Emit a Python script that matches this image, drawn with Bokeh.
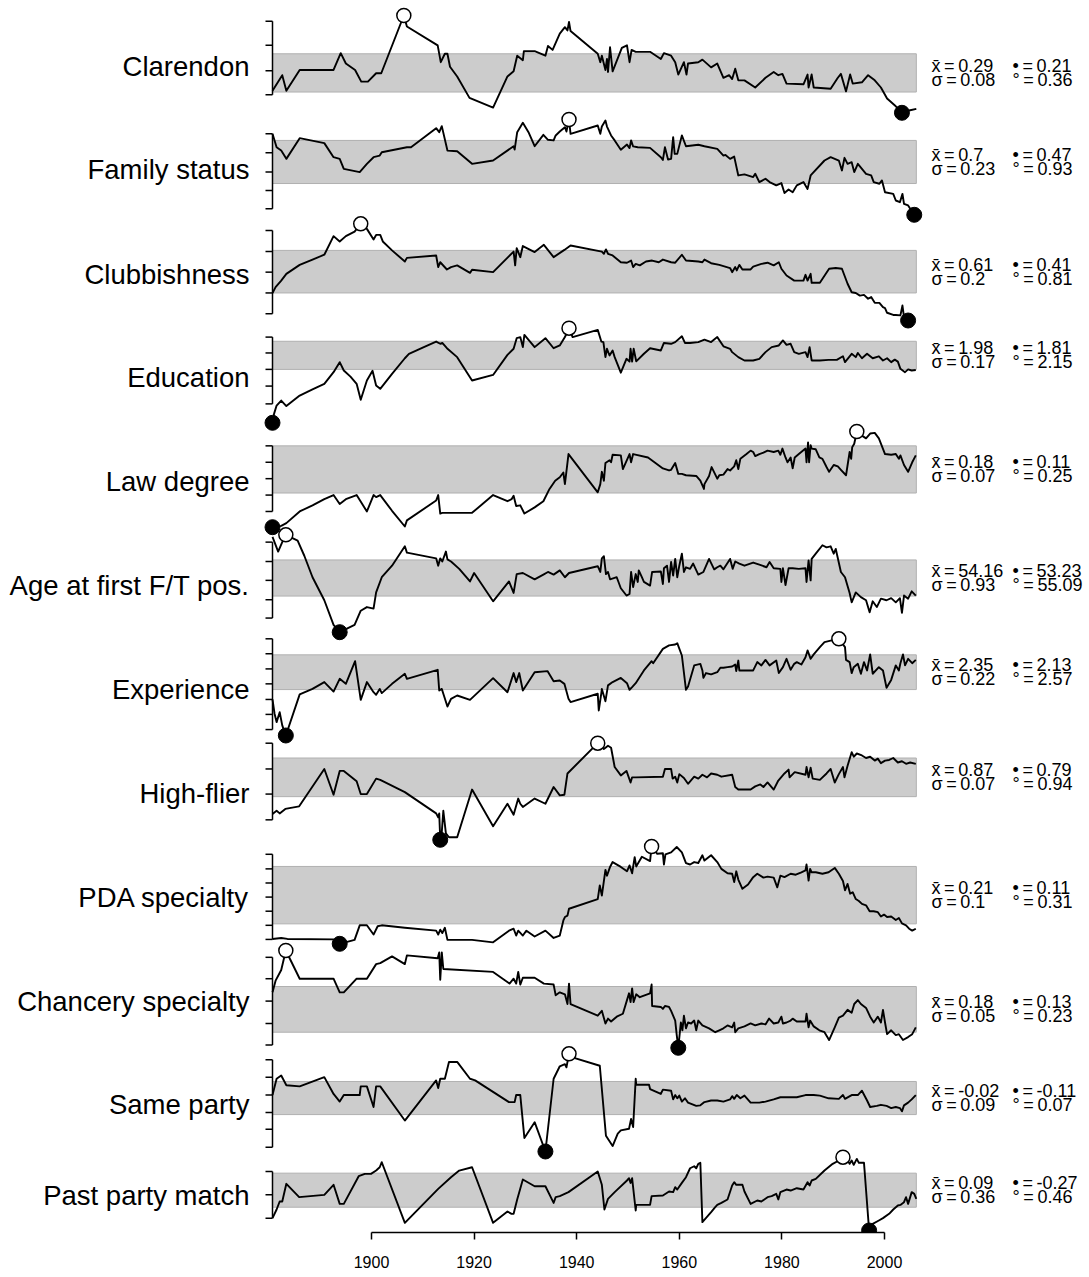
import numpy as np
from bokeh.plotting import figure
from bokeh.models import Range1d, FixedTicker
from bokeh.core.properties import value
from bokeh.embed import file_html
from bokeh.resources import INLINE

# ---------------- data ----------------
labels = ["Clarendon", "Family status", "Clubbishness", "Education", "Law degree",
          "Age at first F/T pos.", "Experience", "High-flier", "PDA specialty",
          "Chancery specialty", "Same party", "Past party match"]

clarendon = [(1880.7,0.244),(1882.6,0.268),(1883.4,0.244),(1886.0,0.276),(1892.6,0.276),(1894.0,0.302),(1895.0,0.286),(1896.8,0.276),(1898.0,0.258),(1899.3,0.258),(1900.9,0.271),(1901.9,0.271),(1906.3,0.360),(1906.9,0.343),(1912.9,0.314),(1913.5,0.288),(1914.3,0.301),(1914.8,0.301),(1915.3,0.281),(1916.7,0.266),(1919.1,0.233),(1923.7,0.218),(1926.5,0.266),(1927.7,0.274),(1928.4,0.298),(1929.5,0.291),(1929.7,0.305),(1931.8,0.305),(1933.9,0.298),(1934.4,0.313),(1935.3,0.307),(1936.7,0.332),(1937.7,0.342),(1938.2,0.337),(1938.5,0.350),(1938.8,0.336),(1944.1,0.301),(1944.6,0.288),(1944.9,0.298),(1945.6,0.276),(1945.9,0.293),(1946.1,0.273),(1946.5,0.311),(1947.0,0.274),(1948.8,0.310),(1949.8,0.314),(1950.3,0.288),(1950.7,0.307),(1951.5,0.304),(1954.3,0.304),(1956.4,0.293),(1957.0,0.302),(1958.4,0.298),(1959.2,0.288),(1959.8,0.269),(1960.9,0.288),(1961.4,0.269),(1961.7,0.286),(1963.7,0.288),(1964.5,0.292),(1966.2,0.280),(1967.4,0.286),(1968.6,0.264),(1969.7,0.268),(1970.3,0.262),(1970.9,0.278),(1971.5,0.260),(1972.7,0.260),(1974.8,0.249),(1976.8,0.264),(1978.4,0.273),(1979.3,0.268),(1980.1,0.270),(1980.9,0.255),(1984.2,0.254),(1985.0,0.269),(1985.2,0.249),(1985.8,0.269),(1986.2,0.249),(1989.5,0.247),(1990.9,0.264),(1991.5,0.270),(1992.5,0.243),(1993.3,0.269),(1993.8,0.255),(1995.6,0.257),(1996.8,0.268),(1998.1,0.260),(1999.3,0.249),(2000.5,0.232),(2002.2,0.220),(2003.4,0.210),(2005.0,0.214),(2006.2,0.216)]

family_status = [(1880.7,0.861),(1881.5,0.796),(1882.4,0.780),(1883.4,0.740),(1886.0,0.840),(1890.8,0.816),(1892.6,0.748),(1893.8,0.740),(1894.6,0.692),(1897.7,0.676),(1899.1,0.716),(1900.4,0.748),(1901.6,0.756),(1902.0,0.772),(1906.9,0.796),(1907.7,0.796),(1912.6,0.888),(1913.2,0.869),(1913.7,0.898),(1914.8,0.780),(1916.7,0.777),(1919.6,0.716),(1923.7,0.732),(1927.7,0.801),(1927.9,0.785),(1928.4,0.869),(1929.5,0.914),(1930.6,0.869),(1931.8,0.801),(1933.5,0.856),(1934.4,0.832),(1935.5,0.829),(1935.9,0.853),(1936.7,0.872),(1937.7,0.893),(1938.0,0.872),(1938.5,0.930),(1938.8,0.861),(1944.1,0.901),(1944.6,0.861),(1944.9,0.896),(1945.6,0.925),(1945.9,0.896),(1946.7,0.853),(1947.4,0.829),(1948.6,0.784),(1949.8,0.809),(1950.3,0.792),(1950.6,0.829),(1951.0,0.800),(1951.9,0.796),(1954.3,0.793),(1956.4,0.748),(1956.8,0.735),(1957.2,0.796),(1957.8,0.737),(1958.4,0.740),(1958.8,0.845),(1959.1,0.764),(1959.6,0.764),(1960.5,0.853),(1961.3,0.801),(1963.7,0.808),(1964.9,0.801),(1967.4,0.788),(1968.6,0.756),(1969.0,0.759),(1969.9,0.740),(1970.7,0.751),(1971.5,0.660),(1972.7,0.665),(1974.4,0.652),(1974.8,0.668),(1975.6,0.628),(1976.8,0.644),(1977.6,0.628),(1978.9,0.612),(1979.9,0.623),(1980.5,0.575),(1981.3,0.592),(1982.1,0.579),(1982.9,0.612),(1984.2,0.628),(1985.0,0.595),(1985.6,0.660),(1988.3,0.732),(1989.5,0.748),(1991.1,0.732),(1991.7,0.684),(1992.2,0.745),(1992.8,0.716),(1993.6,0.724),(1994.1,0.676),(1994.8,0.716),(1996.4,0.668),(1997.4,0.660),(1997.9,0.628),(1999.0,0.620),(1999.5,0.636),(2000.1,0.579),(2001.7,0.571),(2002.2,0.539),(2003.0,0.531),(2003.5,0.571),(2003.8,0.523),(2004.6,0.515),(2005.8,0.470)]

clubbishness = [(1880.7,0.524),(1881.3,0.548),(1882.4,0.575),(1883.4,0.603),(1886.0,0.640),(1888.5,0.662),(1890.8,0.682),(1892.6,0.759),(1893.8,0.737),(1895.0,0.759),(1896.7,0.778),(1897.9,0.810),(1899.1,0.789),(1900.4,0.745),(1900.9,0.764),(1901.7,0.764),(1902.2,0.737),(1904.0,0.700),(1906.5,0.654),(1906.9,0.669),(1912.6,0.679),(1913.0,0.631),(1913.4,0.651),(1914.7,0.621),(1915.5,0.631),(1916.7,0.638),(1919.2,0.607),(1919.6,0.620),(1923.7,0.610),(1927.7,0.695),(1928.0,0.638),(1928.3,0.709),(1929.0,0.672),(1929.5,0.718),(1931.8,0.693),(1933.6,0.723),(1935.5,0.672),(1937.6,0.702),(1938.8,0.720),(1944.9,0.695),(1945.3,0.686),(1945.7,0.704),(1946.1,0.686),(1947.0,0.679),(1948.6,0.651),(1949.8,0.649),(1950.6,0.658),(1951.0,0.631),(1951.5,0.644),(1952.3,0.638),(1953.5,0.654),(1954.7,0.658),(1956.0,0.651),(1956.8,0.662),(1958.4,0.651),(1959.2,0.649),(1960.5,0.682),(1961.3,0.658),(1963.7,0.654),(1964.5,0.651),(1964.9,0.662),(1966.2,0.647),(1967.8,0.640),(1969.9,0.627),(1970.3,0.610),(1970.9,0.631),(1971.2,0.617),(1971.7,0.640),(1972.3,0.621),(1973.9,0.621),(1974.4,0.633),(1976.0,0.644),(1977.2,0.649),(1978.4,0.638),(1979.4,0.651),(1979.9,0.624),(1980.9,0.596),(1982.4,0.575),(1983.3,0.575),(1984.2,0.575),(1984.6,0.599),(1985.0,0.575),(1985.6,0.603),(1985.8,0.566),(1987.4,0.566),(1989.2,0.624),(1990.5,0.627),(1991.7,0.624),(1992.8,0.562),(1993.6,0.527),(1994.4,0.524),(1995.2,0.513),(1996.0,0.516),(1996.8,0.500),(1997.4,0.507),(1998.1,0.483),(1999.0,0.483),(1999.7,0.465),(2000.1,0.461),(2000.5,0.442),(2001.7,0.433),(2002.2,0.433),(2003.1,0.431),(2003.5,0.472),(2003.8,0.424),(2004.6,0.410),(2005.8,0.417)]

education = [(1880.7,1.810),(1881.0,1.842),(1881.5,1.872),(1882.4,1.890),(1883.4,1.870),(1886.0,1.908),(1888.5,1.930),(1890.8,1.950),(1892.6,1.992),(1893.8,2.028),(1894.6,1.998),(1895.9,1.976),(1897.1,1.950),(1897.9,1.893),(1899.1,1.962),(1900.2,1.997),(1900.9,1.944),(1901.7,1.932),(1904.0,1.986),(1906.5,2.042),(1907.3,2.058),(1910.2,2.082),(1912.6,2.102),(1913.4,2.094),(1913.8,2.097),(1914.7,2.078),(1916.7,2.046),(1919.6,1.962),(1923.7,1.982),(1926.5,2.054),(1927.7,2.076),(1928.3,2.114),(1929.0,2.118),(1929.5,2.082),(1929.8,2.126),(1931.8,2.082),(1933.9,2.114),(1935.5,2.078),(1936.7,2.088),(1937.7,2.118),(1938.0,2.130),(1938.5,2.150),(1939.2,2.118),(1944.1,2.144),(1944.8,2.102),(1945.2,2.100),(1945.6,2.046),(1945.9,2.076),(1946.4,2.052),(1947.0,2.070),(1947.4,2.046),(1948.6,1.990),(1949.7,2.040),(1950.3,2.030),(1950.5,2.076),(1950.8,2.030),(1951.1,2.076),(1951.6,2.031),(1953.1,2.058),(1954.3,2.078),(1956.4,2.070),(1957.0,2.097),(1958.4,2.094),(1959.2,2.100),(1960.5,2.121),(1961.1,2.097),(1962.1,2.097),(1963.7,2.100),(1964.9,2.109),(1966.2,2.100),(1967.4,2.118),(1968.6,2.085),(1969.9,2.076),(1970.3,2.064),(1971.5,2.046),(1972.7,2.034),(1974.4,2.034),(1975.6,2.040),(1976.8,2.064),(1978.0,2.082),(1979.4,2.088),(1980.2,2.106),(1980.9,2.090),(1981.7,2.094),(1982.4,2.064),(1983.3,2.058),(1984.6,2.064),(1985.0,2.046),(1985.4,2.082),(1985.8,2.034),(1987.4,2.034),(1989.1,2.036),(1990.7,2.036),(1991.9,2.049),(1992.3,2.028),(1993.6,2.058),(1994.4,2.046),(1994.8,2.061),(1995.6,2.042),(1996.6,2.058),(1997.7,2.042),(1998.9,2.049),(1999.7,2.034),(2000.5,2.042),(2001.3,2.028),(2002.0,2.037),(2002.6,2.030),(2003.1,2.004),(2004.0,1.992),(2004.6,2.002),(2005.3,1.998),(2006.1,2.000)]

law_degree = [(1880.7,0.110),(1882.4,0.112),(1883.4,0.116),(1886.0,0.133),(1888.5,0.142),(1890.8,0.151),(1892.6,0.157),(1893.8,0.144),(1895.0,0.151),(1897.1,0.157),(1899.1,0.133),(1900.4,0.157),(1900.9,0.154),(1901.7,0.157),(1904.0,0.134),(1906.5,0.111),(1906.9,0.120),(1912.6,0.149),(1913.0,0.157),(1913.4,0.130),(1913.8,0.131),(1919.6,0.131),(1923.7,0.157),(1926.5,0.148),(1927.3,0.151),(1927.7,0.156),(1928.2,0.141),(1929.0,0.142),(1929.8,0.130),(1931.8,0.139),(1933.5,0.148),(1934.7,0.166),(1935.8,0.178),(1936.7,0.183),(1937.4,0.190),(1937.7,0.173),(1938.4,0.217),(1944.1,0.161),(1944.6,0.173),(1944.9,0.191),(1945.3,0.178),(1945.6,0.204),(1946.4,0.208),(1946.7,0.205),(1947.0,0.216),(1948.6,0.215),(1949.0,0.195),(1950.3,0.217),(1950.6,0.205),(1951.0,0.217),(1953.9,0.212),(1956.8,0.196),(1958.0,0.193),(1958.4,0.194),(1959.2,0.204),(1959.8,0.188),(1960.5,0.188),(1961.3,0.186),(1963.3,0.185),(1964.1,0.178),(1964.8,0.166),(1964.9,0.173),(1965.8,0.185),(1966.3,0.198),(1967.4,0.181),(1967.8,0.186),(1968.6,0.187),(1969.4,0.195),(1969.9,0.193),(1970.7,0.199),(1971.1,0.208),(1971.5,0.195),(1971.9,0.210),(1973.1,0.217),(1973.9,0.222),(1974.4,0.220),(1974.8,0.214),(1975.6,0.217),(1976.4,0.219),(1977.2,0.222),(1978.4,0.220),(1979.3,0.222),(1979.7,0.216),(1980.1,0.225),(1980.7,0.212),(1981.1,0.205),(1981.7,0.212),(1982.1,0.196),(1982.5,0.212),(1983.3,0.217),(1984.6,0.225),(1984.8,0.205),(1985.1,0.234),(1985.3,0.205),(1985.6,0.230),(1985.8,0.225),(1986.6,0.224),(1987.3,0.212),(1987.9,0.210),(1988.7,0.198),(1989.2,0.191),(1990.1,0.201),(1990.9,0.199),(1991.5,0.194),(1992.5,0.186),(1993.2,0.220),(1993.5,0.210),(1993.7,0.227),(1994.1,0.232),(1994.6,0.250),(1995.6,0.244),(1996.4,0.240),(1997.2,0.247),(1998.1,0.248),(1998.9,0.240),(2000.1,0.217),(2001.3,0.216),(2002.2,0.217),(2002.8,0.210),(2003.1,0.215),(2003.8,0.201),(2004.6,0.191),(2005.4,0.205),(2006.1,0.215)]

age_first_ft = [(1880.7,55.05),(1881.8,54.77),(1882.6,54.95),(1883.3,55.09),(1885.6,54.98),(1886.9,54.69),(1888.5,54.28),(1890.8,53.84),(1892.6,53.37),(1893.8,53.23),(1896.7,53.37),(1897.9,53.64),(1899.1,53.71),(1900.4,53.68),(1900.9,53.99),(1902.0,54.28),(1904.0,54.50),(1906.5,54.87),(1906.9,54.75),(1912.6,54.64),(1913.0,54.50),(1913.4,54.64),(1913.8,54.58),(1914.5,54.77),(1914.8,54.62),(1915.5,54.58),(1917.1,54.44),(1919.2,54.20),(1920.0,54.36),(1923.7,53.82),(1926.8,54.20),(1927.7,53.98),(1928.3,54.34),(1929.5,54.36),(1931.8,54.24),(1933.5,54.33),(1934.4,54.38),(1935.5,54.33),(1936.7,54.41),(1937.7,54.28),(1938.5,54.36),(1944.1,54.49),(1944.6,54.38),(1944.9,54.64),(1945.3,54.68),(1945.7,54.34),(1946.1,54.38),(1946.5,54.24),(1947.8,54.28),(1948.6,54.07),(1949.7,53.93),(1950.3,53.96),(1950.6,54.38),(1951.0,54.09),(1951.5,54.34),(1951.9,54.19),(1952.1,54.41),(1952.7,54.28),(1953.1,54.19),(1954.3,54.12),(1954.7,54.38),(1956.4,54.39),(1956.8,54.15),(1957.0,54.45),(1957.6,54.50),(1958.0,54.19),(1958.4,54.57),(1958.8,54.31),(1959.2,54.63),(1959.6,54.28),(1960.0,54.50),(1960.5,54.73),(1960.9,54.38),(1961.3,54.47),(1962.1,54.44),(1962.7,54.54),(1963.7,54.33),(1964.7,54.38),(1965.8,54.63),(1966.8,54.43),(1967.4,54.47),(1968.0,54.50),(1968.6,54.43),(1969.9,54.63),(1970.4,54.44),(1970.9,54.58),(1971.7,54.54),(1972.7,54.50),(1974.4,54.56),(1975.6,54.52),(1977.0,54.47),(1977.6,54.57),(1978.4,54.45),(1979.7,54.44),(1979.9,54.19),(1980.2,54.45),(1980.7,54.13),(1981.3,54.45),(1982.1,54.45),(1983.3,54.44),(1984.6,54.45),(1984.8,54.19),(1985.2,54.60),(1985.6,54.22),(1985.8,54.63),(1986.6,54.73),(1987.9,54.89),(1988.7,54.85),(1989.5,54.87),(1990.1,54.73),(1990.5,54.82),(1991.5,54.38),(1992.3,54.28),(1993.2,53.98),(1993.6,53.80),(1994.4,53.99),(1995.4,53.90),(1996.4,53.84),(1997.1,53.61),(1997.7,53.82),(1998.5,53.71),(1999.3,53.87),(2000.4,53.84),(2001.3,53.88),(2002.2,53.80),(2003.0,53.88),(2003.4,53.60),(2003.8,53.93),(2004.6,53.87),(2005.3,54.01),(2006.1,53.93)]

experience = [(1880.7,2.294),(1881.1,2.229),(1881.5,2.191),(1882.1,2.236),(1882.6,2.176),(1883.3,2.130),(1886.0,2.317),(1888.5,2.342),(1890.8,2.373),(1892.6,2.330),(1893.8,2.388),(1895.0,2.365),(1896.8,2.468),(1897.9,2.292),(1899.1,2.373),(1900.4,2.327),(1900.9,2.315),(1901.6,2.342),(1902.0,2.323),(1904.0,2.365),(1906.5,2.411),(1906.9,2.388),(1912.9,2.429),(1913.2,2.335),(1913.7,2.342),(1914.0,2.320),(1914.8,2.262),(1915.5,2.297),(1916.7,2.312),(1919.2,2.292),(1923.7,2.391),(1926.5,2.327),(1927.7,2.414),(1928.2,2.373),(1928.8,2.414),(1929.5,2.335),(1931.8,2.418),(1934.3,2.423),(1935.5,2.377),(1936.7,2.380),(1937.6,2.365),(1938.4,2.297),(1938.8,2.282),(1944.1,2.320),(1944.3,2.244),(1944.8,2.323),(1944.9,2.342),(1945.6,2.286),(1946.1,2.358),(1947.0,2.373),(1948.6,2.392),(1949.8,2.368),(1950.3,2.338),(1950.8,2.350),(1951.5,2.368),(1953.1,2.426),(1954.6,2.468),(1954.9,2.459),(1956.8,2.524),(1958.0,2.540),(1959.2,2.544),(1959.6,2.550),(1960.5,2.494),(1961.3,2.338),(1961.7,2.353),(1962.9,2.449),(1964.1,2.456),(1964.5,2.426),(1964.7,2.392),(1965.2,2.414),(1966.2,2.408),(1967.4,2.418),(1968.0,2.438),(1968.6,2.438),(1969.4,2.441),(1970.3,2.444),(1970.9,2.453),(1971.1,2.423),(1971.5,2.471),(1971.7,2.426),(1974.4,2.426),(1975.2,2.464),(1976.0,2.449),(1976.8,2.474),(1977.6,2.449),(1978.9,2.471),(1979.4,2.414),(1980.2,2.441),(1980.9,2.479),(1981.7,2.429),(1982.4,2.456),(1982.9,2.464),(1983.8,2.453),(1984.6,2.486),(1985.0,2.517),(1985.6,2.479),(1986.2,2.499),(1987.4,2.532),(1988.3,2.555),(1989.5,2.562),(1991.1,2.570),(1992.3,2.532),(1992.5,2.474),(1993.2,2.464),(1993.6,2.414),(1994.0,2.441),(1994.8,2.456),(1995.4,2.411),(1996.0,2.464),(1996.6,2.426),(1997.2,2.499),(1997.7,2.411),(1998.9,2.441),(1999.7,2.426),(2000.4,2.347),(2001.3,2.383),(2002.2,2.449),(2002.8,2.426),(2003.1,2.459),(2003.6,2.499),(2004.0,2.449),(2004.6,2.479),(2005.4,2.459),(2006.1,2.474)]

high_flier = [(1880.7,0.830),(1881.5,0.835),(1882.1,0.831),(1883.2,0.838),(1885.9,0.842),(1890.8,0.900),(1892.6,0.860),(1893.8,0.897),(1894.6,0.897),(1897.1,0.881),(1897.9,0.861),(1899.1,0.861),(1900.9,0.885),(1901.7,0.883),(1906.5,0.864),(1912.6,0.831),(1913.0,0.825),(1913.2,0.831),(1913.4,0.790),(1913.7,0.802),(1914.0,0.835),(1914.5,0.800),(1915.1,0.794),(1916.7,0.794),(1919.6,0.868),(1923.7,0.811),(1926.5,0.846),(1927.7,0.829),(1928.6,0.854),(1929.0,0.846),(1929.5,0.841),(1931.8,0.854),(1933.9,0.846),(1935.5,0.872),(1936.7,0.859),(1937.6,0.860),(1938.2,0.893),(1944.1,0.940),(1944.9,0.938),(1945.3,0.931),(1946.1,0.936),(1946.7,0.933),(1947.4,0.903),(1948.6,0.890),(1949.7,0.897),(1950.5,0.879),(1950.8,0.887),(1951.5,0.887),(1956.8,0.888),(1957.2,0.900),(1958.4,0.900),(1958.7,0.885),(1959.2,0.888),(1959.6,0.879),(1960.0,0.892),(1960.9,0.886),(1961.7,0.877),(1962.9,0.888),(1963.7,0.885),(1964.5,0.891),(1965.4,0.887),(1966.2,0.893),(1967.4,0.891),(1968.2,0.888),(1970.3,0.891),(1970.9,0.872),(1971.5,0.868),(1973.9,0.868),(1974.8,0.873),(1975.8,0.876),(1976.4,0.872),(1977.2,0.879),(1978.4,0.868),(1979.3,0.882),(1980.5,0.893),(1981.3,0.899),(1981.5,0.887),(1982.5,0.895),(1984.6,0.891),(1984.8,0.903),(1985.2,0.887),(1985.6,0.902),(1986.0,0.885),(1987.4,0.883),(1988.7,0.893),(1989.5,0.900),(1990.3,0.879),(1991.1,0.892),(1991.9,0.903),(1992.2,0.887),(1992.8,0.905),(1993.6,0.926),(1994.0,0.919),(1994.6,0.924),(1995.6,0.921),(1996.4,0.917),(1997.2,0.919),(1998.1,0.913),(1998.7,0.916),(1999.3,0.909),(2000.1,0.913),(2000.9,0.914),(2001.7,0.917),(2002.6,0.910),(2003.4,0.912),(2004.2,0.908),(2005.0,0.910),(2006.1,0.908)]

pda_specialty = [(1880.7,0.120),(1882.4,0.122),(1883.6,0.120),(1892.6,0.119),(1893.8,0.110),(1896.7,0.118),(1897.7,0.148),(1899.1,0.148),(1900.4,0.129),(1901.2,0.146),(1902.0,0.148),(1906.5,0.143),(1912.6,0.137),(1913.0,0.129),(1913.4,0.139),(1913.8,0.132),(1914.3,0.143),(1914.8,0.118),(1919.6,0.118),(1923.7,0.113),(1926.8,0.137),(1927.7,0.141),(1928.2,0.127),(1928.6,0.137),(1929.5,0.127),(1930.2,0.137),(1931.8,0.125),(1933.9,0.137),(1935.5,0.122),(1936.7,0.127),(1937.4,0.158),(1937.7,0.165),(1938.2,0.168),(1938.5,0.182),(1944.1,0.202),(1944.5,0.230),(1944.9,0.209),(1945.6,0.262),(1945.9,0.250),(1946.5,0.268),(1947.0,0.278),(1948.6,0.268),(1949.8,0.259),(1950.3,0.271),(1950.8,0.255),(1951.3,0.288),(1951.6,0.269),(1952.7,0.289),(1954.3,0.280),(1954.6,0.310),(1955.7,0.295),(1956.8,0.296),(1957.0,0.273),(1957.3,0.294),(1958.4,0.298),(1959.5,0.309),(1960.5,0.298),(1961.3,0.276),(1962.1,0.273),(1962.9,0.278),(1963.7,0.276),(1964.5,0.292),(1964.9,0.281),(1966.2,0.292),(1967.4,0.278),(1968.2,0.264),(1969.4,0.255),(1970.3,0.254),(1970.7,0.237),(1971.1,0.259),(1971.5,0.242),(1972.3,0.223),(1973.4,0.232),(1974.4,0.247),(1975.2,0.254),(1976.4,0.246),(1977.2,0.248),(1978.4,0.246),(1979.1,0.226),(1979.7,0.250),(1980.5,0.247),(1981.7,0.254),(1982.7,0.252),(1983.8,0.257),(1984.6,0.261),(1984.8,0.273),(1985.2,0.240),(1985.5,0.264),(1985.8,0.257),(1986.6,0.257),(1987.9,0.254),(1989.1,0.257),(1990.3,0.266),(1991.1,0.254),(1991.9,0.239),(1992.3,0.220),(1992.8,0.233),(1993.3,0.213),(1993.8,0.216),(1994.4,0.202),(1995.0,0.198),(1995.6,0.192),(1996.4,0.189),(1997.1,0.177),(1997.9,0.177),(1998.7,0.175),(1999.3,0.166),(1999.9,0.170),(2000.5,0.165),(2001.3,0.166),(2002.2,0.159),(2002.8,0.163),(2003.4,0.152),(2004.2,0.148),(2004.8,0.141),(2005.4,0.137),(2006.1,0.141)]

chancery_specialty = [(1880.7,0.187),(1881.3,0.199),(1882.4,0.210),(1883.3,0.230),(1886.0,0.201),(1892.6,0.201),(1893.8,0.187),(1894.6,0.187),(1897.1,0.201),(1899.1,0.201),(1900.9,0.216),(1901.7,0.217),(1904.0,0.224),(1906.5,0.216),(1906.9,0.225),(1912.9,0.222),(1913.2,0.228),(1913.4,0.200),(1913.7,0.228),(1914.0,0.211),(1923.7,0.208),(1926.9,0.196),(1927.7,0.201),(1928.2,0.196),(1928.6,0.208),(1929.0,0.195),(1929.5,0.202),(1931.8,0.202),(1933.6,0.196),(1935.5,0.195),(1935.9,0.184),(1936.7,0.187),(1937.7,0.185),(1938.2,0.175),(1938.5,0.196),(1938.8,0.175),(1944.1,0.163),(1944.9,0.168),(1945.6,0.155),(1946.1,0.160),(1946.7,0.157),(1947.8,0.162),(1949.0,0.165),(1949.8,0.179),(1950.2,0.186),(1950.5,0.177),(1950.8,0.191),(1951.1,0.177),(1951.6,0.185),(1952.3,0.182),(1954.3,0.186),(1954.6,0.195),(1954.7,0.173),(1956.4,0.172),(1956.8,0.170),(1957.2,0.173),(1958.0,0.172),(1958.4,0.168),(1959.2,0.158),(1959.5,0.143),(1959.8,0.130),(1960.3,0.156),(1960.6,0.148),(1960.9,0.163),(1961.3,0.150),(1961.7,0.156),(1962.3,0.155),(1962.9,0.158),(1963.3,0.148),(1963.7,0.158),(1964.5,0.153),(1965.8,0.150),(1967.0,0.146),(1967.8,0.148),(1968.6,0.150),(1969.4,0.153),(1970.3,0.151),(1970.7,0.156),(1970.9,0.146),(1971.5,0.150),(1972.7,0.152),(1973.9,0.155),(1974.8,0.153),(1976.0,0.155),(1976.8,0.154),(1977.5,0.160),(1978.4,0.155),(1979.3,0.156),(1979.9,0.162),(1980.2,0.155),(1980.9,0.156),(1981.7,0.158),(1982.1,0.160),(1982.9,0.157),(1984.6,0.157),(1984.8,0.165),(1985.2,0.151),(1985.5,0.158),(1986.2,0.152),(1987.3,0.148),(1988.3,0.146),(1989.2,0.138),(1990.3,0.151),(1991.1,0.161),(1991.9,0.163),(1992.8,0.169),(1993.6,0.166),(1994.1,0.175),(1994.8,0.179),(1995.4,0.175),(1996.4,0.171),(1997.2,0.162),(1997.9,0.156),(1998.7,0.162),(1999.3,0.156),(1999.7,0.169),(2000.1,0.156),(2000.5,0.144),(2001.3,0.148),(2002.2,0.143),(2002.8,0.144),(2003.6,0.138),(2004.6,0.141),(2005.4,0.144),(2006.1,0.151)]

same_party = [(1880.7,-0.006),(1881.5,0.024),(1882.4,0.030),(1883.4,0.012),(1886.0,0.010),(1890.8,0.027),(1892.6,-0.004),(1893.8,-0.018),(1894.6,-0.006),(1897.7,-0.006),(1897.9,0.010),(1899.1,0.010),(1900.4,-0.028),(1900.9,0.010),(1901.7,0.010),(1906.5,-0.053),(1912.6,0.021),(1913.0,0.007),(1913.4,0.024),(1914.3,0.024),(1915.1,0.055),(1916.7,0.055),(1919.2,0.024),(1920.2,0.021),(1926.8,-0.019),(1927.9,-0.019),(1928.2,-0.006),(1929.0,-0.006),(1929.8,-0.085),(1931.8,-0.056),(1933.9,-0.110),(1935.5,0.024),(1936.7,0.047),(1937.7,0.051),(1938.0,0.045),(1938.5,0.070),(1939.0,0.064),(1944.5,0.048),(1945.7,-0.081),(1947.0,-0.100),(1948.0,-0.077),(1948.6,-0.071),(1950.2,-0.068),(1950.6,-0.050),(1951.0,-0.065),(1951.5,0.024),(1951.6,0.013),(1954.1,0.013),(1954.3,0.005),(1956.4,-0.004),(1956.8,0.004),(1958.4,0.002),(1958.8,-0.014),(1959.2,-0.006),(1959.6,-0.012),(1960.0,-0.007),(1960.5,-0.018),(1961.1,-0.012),(1961.7,-0.020),(1963.3,-0.026),(1964.1,-0.025),(1964.9,-0.019),(1966.2,-0.016),(1967.4,-0.016),(1968.6,-0.018),(1969.9,-0.014),(1970.3,-0.008),(1970.7,-0.013),(1971.2,-0.006),(1971.9,-0.012),(1972.7,-0.007),(1973.9,-0.020),(1975.6,-0.020),(1976.8,-0.018),(1978.4,-0.014),(1979.7,-0.010),(1981.3,-0.010),(1982.9,-0.010),(1984.6,-0.006),(1986.2,-0.006),(1987.4,-0.007),(1989.1,-0.012),(1991.1,-0.013),(1991.9,-0.006),(1992.3,-0.013),(1993.6,-0.006),(1994.8,-0.006),(1995.6,0.002),(1996.6,-0.016),(1997.2,-0.028),(1998.5,-0.026),(1999.3,-0.024),(2000.4,-0.026),(2001.3,-0.030),(2002.2,-0.028),(2003.0,-0.030),(2003.4,-0.036),(2003.8,-0.025),(2004.6,-0.020),(2005.3,-0.014),(2006.1,-0.006)]

past_party_match = [(1880.7,-0.147),(1881.5,-0.061),(1882.1,0.019),(1882.6,0.019),(1883.4,0.195),(1885.9,0.062),(1890.8,0.085),(1892.6,0.185),(1893.8,-0.005),(1894.6,-0.005),(1897.5,0.271),(1898.7,0.294),(1899.9,0.294),(1900.9,0.327),(1901.6,0.360),(1902.0,0.410),(1906.5,-0.194),(1913.0,0.145),(1915.5,0.261),(1917.1,0.327),(1919.6,0.360),(1923.7,-0.194),(1926.5,-0.081),(1927.3,-0.104),(1927.7,-0.104),(1928.4,0.039),(1929.5,0.238),(1931.8,0.171),(1933.9,0.171),(1935.5,0.005),(1935.9,0.062),(1936.7,0.072),(1938.4,0.112),(1944.1,0.317),(1944.9,0.185),(1945.4,-0.061),(1946.1,0.045),(1947.4,0.112),(1949.8,0.228),(1950.2,0.251),(1950.5,0.204),(1950.8,0.251),(1951.5,-0.071),(1951.6,-0.015),(1954.3,-0.015),(1954.6,0.072),(1956.8,0.078),(1958.0,0.118),(1958.8,0.112),(1959.2,0.161),(1959.6,0.138),(1960.5,0.204),(1961.3,0.261),(1962.1,0.350),(1962.9,0.370),(1963.3,0.350),(1963.7,0.394),(1964.1,0.404),(1964.5,-0.187),(1966.2,-0.088),(1967.0,-0.038),(1967.4,-0.015),(1968.2,0.005),(1969.4,0.039),(1970.3,0.178),(1970.7,0.211),(1971.1,0.185),(1972.3,0.185),(1972.7,0.118),(1973.9,-0.005),(1975.2,0.029),(1976.0,0.019),(1977.2,0.062),(1978.0,0.072),(1978.9,0.095),(1979.3,0.039),(1979.7,0.112),(1980.9,0.138),(1981.7,0.128),(1982.9,0.151),(1984.2,0.138),(1985.0,0.211),(1985.4,0.178),(1985.8,0.228),(1986.6,0.244),(1988.3,0.327),(1989.9,0.394),(1991.1,0.427),(1991.9,0.460),(1992.8,0.427),(1993.2,0.394),(1993.6,0.427),(1994.0,0.384),(1994.6,0.443),(1995.0,0.404),(1996.0,0.404),(1997.0,-0.270),(1997.7,-0.204),(1998.9,-0.170),(1999.7,-0.147),(2000.9,-0.104),(2001.7,-0.061),(2002.6,-0.021),(2003.1,-0.015),(2003.8,0.012),(2004.2,0.062),(2004.6,-0.005),(2005.3,0.112),(2005.8,0.095),(2006.2,0.045)]

series = [clarendon, family_status, clubbishness, education, law_degree, age_first_ft,
          experience, high_flier, pda_specialty, chancery_specialty, same_party, past_party_match]

band_low  = [0.242, 0.621, 0.524, 2.002, 0.160, 53.92, 2.339, 0.857, 0.151, 0.146, -0.042, -0.038]
band_high = [0.301, 0.829, 0.700, 2.103, 0.229, 54.61, 2.497, 0.917, 0.269, 0.193, 0.019, 0.301]

y_ticks = [[0.238, 0.275, 0.314, 0.351],
           [0.499, 0.587, 0.676, 0.769, 0.861],
           [0.438, 0.524, 0.610, 0.695, 0.782],
           [1.878, 1.942, 2.002, 2.061, 2.118],
           [0.133, 0.157, 0.181, 0.205, 0.229],
           [53.50, 53.85, 54.22, 54.58, 54.95],
           [2.157, 2.226, 2.294, 2.365, 2.433, 2.502, 2.570],
           [0.821, 0.861, 0.900, 0.940],
           [0.119, 0.148, 0.177, 0.206, 0.235, 0.264, 0.294],
           [0.133, 0.155, 0.178, 0.201, 0.223],
           [-0.102, -0.069, -0.038, -0.006, 0.027, 0.059],
           [-0.147, 0.085, 0.317]]

mean_vals  = [0.29, 0.7, 0.61, 1.98, 0.18, 54.16, 2.35, 0.87, 0.21, 0.18, -0.02, 0.09]
sd_vals    = [0.08, 0.23, 0.2, 0.17, 0.07, 0.93, 0.22, 0.07, 0.1, 0.05, 0.09, 0.36]
low_vals   = [0.21, 0.47, 0.41, 1.81, 0.11, 53.23, 2.13, 0.79, 0.11, 0.13, -0.11, -0.27]
high_vals  = [0.36, 0.93, 0.81, 2.15, 0.25, 55.09, 2.57, 0.94, 0.31, 0.23, 0.07, 0.46]

x_ticks = [1900, 1920, 1940, 1960, 1980, 2000]

# ---------------- layout ----------------
FONT = "Liberation Sans"
W, H = 1089, 1277
BORDER_BOTTOM = 45
FRAME_TOP = 0                       # canvas px
FRAME_BOTTOM = H - BORDER_BOTTOM    # canvas px (x-axis line)
PX_PER_YEAR = 5.13
AXIS_YEAR = 1880.7
AXIS_PX = 272
BAND_END = 2006.2
TICK_LEN = 7 / PX_PER_YEAR
# canvas rows of each panel's highest and lowest point
row_top = [15, 119, 223.3, 327.7, 431, 534.3, 638.3, 742.7, 846, 950, 1053.3, 1156.7]
row_bottom = [112.3, 214.3, 320, 422.3, 526.7, 631.7, 735, 839.3, 943.3, 1047.3, 1151, 1230]

x_start = AXIS_YEAR - AXIS_PX / PX_PER_YEAR
x_end = AXIS_YEAR + (W - AXIS_PX) / PX_PER_YEAR
LABEL_X = AXIS_YEAR - 23 / PX_PER_YEAR
STAT_X1 = AXIS_YEAR + (931 - AXIS_PX) / PX_PER_YEAR
STAT_X2 = AXIS_YEAR + (1012 - AXIS_PX) / PX_PER_YEAR
SP = "\u2009"

p = figure(width=W, height=H, x_range=Range1d(x_start, x_end), y_range=Range1d(0, 1),
           output_backend="svg", toolbar_location=None, y_axis_location=None,
           min_border_left=0, min_border_right=0, min_border_top=0,
           min_border_bottom=BORDER_BOTTOM)
p.outline_line_color = None
p.xgrid.visible = False
p.ygrid.visible = False
p.background_fill_color = "white"
p.border_fill_color = "white"

ax = p.xaxis[0]
ax.ticker = FixedTicker(ticks=x_ticks)
ax.bounds = (x_ticks[0], x_ticks[-1])
ax.major_tick_in = 0
ax.major_tick_out = 7
ax.minor_tick_line_color = None
ax.axis_line_width = 1.5
ax.major_tick_line_width = 1.5
ax.axis_line_color = "black"
ax.major_tick_line_color = "black"
ax.major_label_text_font = FONT
ax.major_label_text_font_size = "16px"
ax.major_label_text_color = "black"
ax.major_label_standoff = 16

parsed = []
ranges = {}
for i, data in enumerate(series):
    yrs = np.array([d[0] for d in data])
    vals = np.array([d[1] for d in data])
    vmin, vmax = vals.min(), vals.max()
    s = (row_bottom[i] - row_top[i]) / (vmax - vmin)
    start = vmin - (FRAME_BOTTOM - row_bottom[i]) / s
    end = vmax + (row_top[i] - FRAME_TOP) / s
    ranges[f"panel{i}"] = Range1d(start, end)
    parsed.append((yrs, vals))
p.extra_y_ranges = ranges

for i, (yrs, vals) in enumerate(parsed):
    rn = f"panel{i}"
    vmin, vmax = vals.min(), vals.max()
    # band
    p.quad(left=[AXIS_YEAR], right=[BAND_END], bottom=[band_low[i]], top=[band_high[i]],
           fill_color="#cccccc", line_color="#b0b0b0", line_width=1, y_range_name=rn)
    # y axis line and ticks
    t = y_ticks[i]
    p.segment(x0=[AXIS_YEAR], y0=[min(t)], x1=[AXIS_YEAR], y1=[max(t)],
              line_color="black", line_width=1.5, y_range_name=rn)
    p.segment(x0=[AXIS_YEAR - TICK_LEN] * len(t), y0=t, x1=[AXIS_YEAR] * len(t), y1=t,
              line_color="black", line_width=1.5, y_range_name=rn)
    # series line
    p.line(yrs, vals, line_color="black", line_width=1.9, line_join="round", y_range_name=rn)
    # extremes
    imin, imax = int(np.argmin(vals)), int(np.argmax(vals))
    p.scatter([yrs[imin]], [vals[imin]], size=15, fill_color="black", line_color="black",
              y_range_name=rn)
    p.scatter([yrs[imax]], [vals[imax]], size=14, fill_color="white", line_color="black",
              line_width=1.5, y_range_name=rn)
    # row label
    p.text(x=[LABEL_X], y=[(vmin + vmax) / 2], text=[labels[i]], text_align="right",
           text_baseline="middle", text_font=value(FONT), text_font_size="27.5px",
           text_color="black", y_offset=2, y_range_name=rn)
    # statistics
    mid = (band_low[i] + band_high[i]) / 2
    p.text(x=[STAT_X1, STAT_X1], y=[mid, mid],
           text=[f"x\u0304{SP}={SP}{mean_vals[i]:g}", f"\u03c3{SP}={SP}{sd_vals[i]:g}"],
           y_offset=[-7, 7], text_align="left", text_baseline="middle",
           text_font=value(FONT), text_font_size="18px", text_color="black", y_range_name=rn)
    p.text(x=[STAT_X2, STAT_X2], y=[mid, mid],
           text=[f"\u2022{SP}={SP}{low_vals[i]:g}", f"\u00b0{SP}={SP}{high_vals[i]:g}"],
           y_offset=[-7, 7], text_align="left", text_baseline="middle",
           text_font=value(FONT), text_font_size="18px", text_color="black", y_range_name=rn)

open("out.html", "w").write(file_html(p, INLINE))
